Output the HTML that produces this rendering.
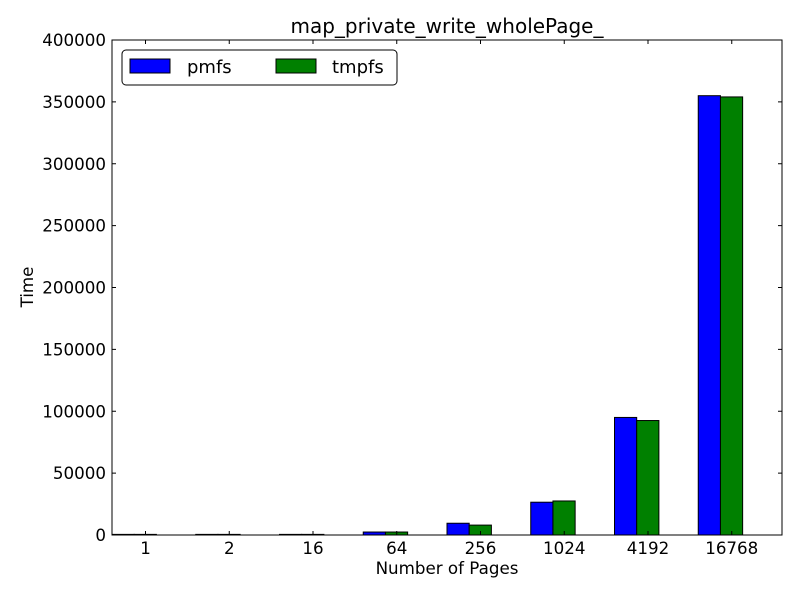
<!DOCTYPE html>
<html><head><meta charset="utf-8"><style>
body{margin:0;background:#fff;font-family:"DejaVu Sans","Liberation Sans",sans-serif}
</style></head><body>
<svg id="chart" width="800" height="600" xmlns="http://www.w3.org/2000/svg" font-family="DejaVu Sans, Liberation Sans, sans-serif">
<rect width="800" height="600" fill="#fff"/>
<text x="447" y="33" font-size="20" text-anchor="middle">map_private_write_wholePage_</text>
<g id="bars"></g>
<rect x="112" y="40" width="670" height="495" fill="none" stroke="#000" stroke-width="1"/>
<g id="axes" font-size="16.7"></g>
<text x="447" y="574" font-size="16.7" text-anchor="middle">Number of Pages</text>
<text x="33" y="287" font-size="16.7" text-anchor="middle" transform="rotate(-90 33 287)">Time</text>
<g>
<rect x="122" y="50" width="275" height="35" rx="4" fill="#fff" stroke="#000"/>
<rect x="130" y="59" width="40" height="14" fill="#0000ff" stroke="#000"/>
<text x="187" y="73" font-size="18">pmfs</text>
<rect x="276" y="59" width="40" height="14" fill="#008000" stroke="#000"/>
<text x="332" y="73" font-size="18">tmpfs</text>
</g>
</svg>
<script>
const categories=["1","2","16","64","256","1024","4192","16768"];
const pmfs=[500,500,500,2400,9500,26500,95000,355000];
const tmpfs=[500,500,500,2400,8000,27500,92500,354000];
const yTicks=[0,50000,100000,150000,200000,250000,300000,350000,400000];
const L=112,R=782,T=40,B=535,yMax=400000,xMax=8;
const xs=v=>L+v*(R-L)/xMax, ys=v=>B-v*(B-T)/yMax;
const NS="http://www.w3.org/2000/svg";
const bars=document.getElementById('bars'),axes=document.getElementById('axes');
function mk(tag,attrs,parent){const e=document.createElementNS(NS,tag);for(const k in attrs)e.setAttribute(k,attrs[k]);parent.appendChild(e);return e;}
const w=0.265;
categories.forEach((c,i)=>{
  const a=mk('rect',{x:xs(i),y:ys(pmfs[i]),width:xs(w)-xs(0),height:B-ys(pmfs[i]),fill:'#0000ff',stroke:'#000'},bars);
  
  
  const b=mk('rect',{x:xs(i+w),y:ys(tmpfs[i]),width:xs(w)-xs(0),height:B-ys(tmpfs[i]),fill:'#008000',stroke:'#000'},bars);
  
  
  const tx=xs(i+0.4);
  mk('line',{x1:tx,x2:tx,y1:B,y2:B-4,stroke:'#000'},axes);
  mk('line',{x1:tx,x2:tx,y1:T,y2:T+4,stroke:'#000'},axes);
  const t=mk('text',{x:tx,y:B+19,'text-anchor':'middle'},axes);
  t.textContent=c;
  
  
});
yTicks.forEach(v=>{
  const y=ys(v);
  mk('line',{x1:L,x2:L+4,y1:y,y2:y,stroke:'#000'},axes);
  mk('line',{x1:R,x2:R-4,y1:y,y2:y,stroke:'#000'},axes);
  const t=mk('text',{x:L-6,y:y+6,'text-anchor':'end'},axes);
  t.textContent=v;
  
  
});
</script>
</body></html>
